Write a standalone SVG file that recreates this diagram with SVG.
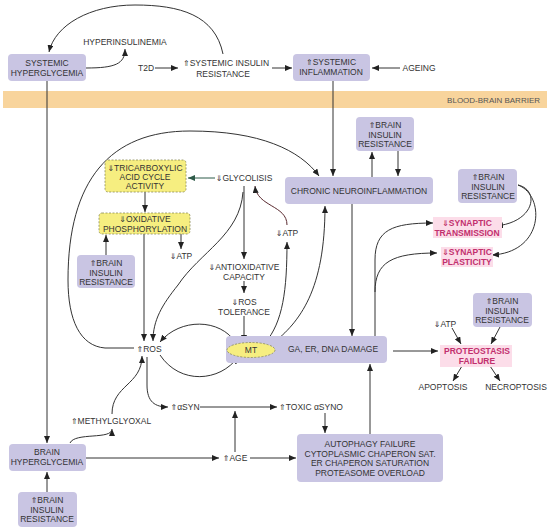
<svg xmlns="http://www.w3.org/2000/svg" width="550" height="530" viewBox="0 0 550 530">
<defs>
<style>
text{font-family:"Liberation Sans",Arial,"DejaVu Sans",sans-serif;font-size:8.5px;fill:#333;text-anchor:middle}
.ar{font-family:"DejaVu Sans",sans-serif;font-size:8px}
.box{fill:#c9c5e3;stroke:none}
.yel{fill:#f6ee80;stroke:#8a8a55;stroke-width:0.8;stroke-dasharray:2 1.5}
.pk{fill:#fcdde9}
.pt{fill:#c2306e;font-weight:bold}
.c path,.c line{fill:none;stroke:#333;stroke-width:1}
</style>
<marker id="a" markerWidth="7" markerHeight="6" refX="7" refY="3" orient="auto" markerUnits="userSpaceOnUse"><path d="M0,0 L7,3 L0,6 z" fill="#222"/></marker>
<marker id="g" markerWidth="7" markerHeight="6" refX="7" refY="3" orient="auto" markerUnits="userSpaceOnUse"><path d="M0,0 L7,3 L0,6 z" fill="#2d5a48"/></marker>
</defs>
<rect width="550" height="530" fill="#fff"/>
<rect x="3" y="91" width="544" height="17" fill="#f8d49c"/>
<text x="540" y="103" style="text-anchor:end;font-size:8px;fill:#555">BLOOD-BRAIN BARRIER</text>

<g class="c">
<path d="M223,54 C215,15 180,5 135,5 C90,5 55,25 49,52" marker-end="url(#a)"/>
<path d="M86,68 C115,68 125,64 125,49" marker-end="url(#a)"/>
<line x1="155" y1="68" x2="178" y2="68" marker-end="url(#a)"/>
<line x1="272" y1="68" x2="292" y2="68" marker-end="url(#a)"/>
<line x1="400" y1="68" x2="372" y2="68" marker-end="url(#a)"/>
<line x1="333" y1="81" x2="333" y2="176" marker-end="url(#a)"/>
<line x1="47" y1="81" x2="47" y2="443" marker-end="url(#a)"/>
<line x1="372" y1="177" x2="372" y2="152" marker-end="url(#a)"/>
<line x1="398" y1="151" x2="398" y2="176" marker-end="url(#a)"/>
<path d="M518,185 C540,190 535,222 496,226" marker-end="url(#a)"/>
<path d="M518,185 C545,195 545,252 492,255" marker-end="url(#a)"/>
<path d="M375,336 L375,260 C375,230 392,223 433,223" marker-end="url(#a)"/>
<path d="M375,292 C375,262 392,253 437,253" marker-end="url(#a)"/>
<line x1="452" y1="328" x2="461" y2="344" marker-end="url(#a)"/>
<line x1="500" y1="327" x2="491" y2="344" marker-end="url(#a)"/>
<line x1="393" y1="351" x2="438" y2="351" marker-end="url(#a)"/>
<line x1="462" y1="366" x2="453" y2="381" marker-end="url(#a)"/>
<line x1="490" y1="366" x2="500" y2="381" marker-end="url(#a)"/>
<line x1="352" y1="204" x2="352" y2="336" marker-end="url(#a)"/>
<line x1="370" y1="434" x2="370" y2="364" marker-end="url(#a)"/>
<path d="M265,343 C283,322 287,290 287,242" marker-end="url(#a)"/>
<path d="M287,225 C287,205 257,207 255,186" style="stroke:#5a2a30" marker-end="url(#a)"/>
<path d="M272,344 C300,322 325,290 325,206" marker-end="url(#a)"/>
<line x1="215" y1="178" x2="188" y2="178" style="stroke:#2d5a48" marker-end="url(#g)"/>
<line x1="145" y1="192" x2="145" y2="212" marker-end="url(#a)"/>
<line x1="181" y1="234" x2="181" y2="249" marker-end="url(#a)"/>
<line x1="144" y1="234" x2="144" y2="341" marker-end="url(#a)"/>
<line x1="106" y1="255" x2="106" y2="235" marker-end="url(#a)"/>
<line x1="244" y1="186" x2="244" y2="259" marker-end="url(#a)"/>
<line x1="244" y1="281" x2="244" y2="293" marker-end="url(#a)"/>
<line x1="244" y1="316" x2="244" y2="342" marker-end="url(#a)"/>
<path d="M243,192 C240,235 200,252 178,285 C162,305 153,320 153,341" marker-end="url(#a)"/>
<path d="M134,348 L105,348 C80,346 68,320 68,280 C68,180 110,131 190,131 C260,131 300,150 319,176" marker-end="url(#a)"/>
<path d="M236,343 C220,318 180,318 160,342" marker-end="url(#a)"/>
<path d="M160,355 C180,385 220,382 238,357" marker-end="url(#a)"/>
<path d="M70,443 C75,432 112,440 112,429" marker-end="url(#a)"/>
<path d="M112,414 C112,385 142,385 142,356" marker-end="url(#a)"/>
<path d="M147,357 L147,385 C147,402 155,407 168,407" marker-end="url(#a)"/>
<line x1="200" y1="407" x2="277" y2="407" marker-end="url(#a)"/>
<line x1="325" y1="413" x2="325" y2="433" marker-end="url(#a)"/>
<line x1="86" y1="458" x2="219" y2="458" marker-end="url(#a)"/>
<line x1="235" y1="452" x2="235" y2="411" marker-end="url(#a)"/>
<line x1="250" y1="458" x2="296" y2="458" marker-end="url(#a)"/>
<line x1="47" y1="492" x2="47" y2="472" marker-end="url(#a)"/>
</g>

<g id="sys-hyperglycemia"><rect class="box" x="8" y="54" width="78" height="27" rx="4"/><text x="47" y="66">SYSTEMIC</text><text x="47" y="76">HYPERGLYCEMIA</text></g>
<g id="hyperinsulinemia"><text x="125" y="45">HYPERINSULINEMIA</text></g>
<g id="t2d"><text x="146" y="71">T2D</text></g>
<g id="sys-insulin-res"><text x="226" y="66"><tspan class="ar">⇑</tspan>SYSTEMIC INSULIN</text><text x="223" y="77">RESISTANCE</text></g>
<g id="sys-inflammation"><rect class="box" x="293" y="54" width="77" height="27" rx="4"/><text x="331" y="65"><tspan class="ar">⇑</tspan>SYSTEMIC</text><text x="331" y="75">INFLAMMATION</text></g>
<g id="ageing"><text x="419" y="71">AGEING</text></g>

<g id="bir-top"><rect class="box" x="356" y="117" width="58" height="34" rx="4"/><text x="385" y="128"><tspan class="ar">⇑</tspan>BRAIN</text><text x="385" y="138">INSULIN</text><text x="385" y="147">RESISTANCE</text></g>
<g id="chronic"><rect class="box" x="285" y="177" width="148" height="27" rx="4"/><text x="359" y="194">CHRONIC NEUROINFLAMMATION</text></g>
<g id="bir-right"><rect class="box" x="458" y="169" width="59" height="34" rx="4"/><text x="488" y="180"><tspan class="ar">⇑</tspan>BRAIN</text><text x="488" y="190">INSULIN</text><text x="488" y="199">RESISTANCE</text></g>
<g id="syn-trans"><rect class="pk" x="433" y="217" width="69" height="21"/><text class="pt" x="467" y="226"><tspan class="ar">⇓</tspan>SYNAPTIC</text><text class="pt" x="467" y="236">TRANSMISSION</text></g>
<g id="syn-plast"><rect class="pk" x="441" y="247" width="52" height="20"/><text class="pt" x="467" y="255"><tspan class="ar">⇓</tspan>SYNAPTIC</text><text class="pt" x="467" y="265">PLASTICITY</text></g>
<g id="bir-lowright"><rect class="box" x="473" y="293" width="59" height="34" rx="4"/><text x="502" y="304"><tspan class="ar">⇑</tspan>BRAIN</text><text x="502" y="314">INSULIN</text><text x="502" y="323">RESISTANCE</text></g>
<g id="atp-right"><text x="445" y="327"><tspan class="ar">⇓</tspan>ATP</text></g>
<g id="proteostasis"><rect class="pk" x="440" y="345" width="72" height="22"/><text class="pt" x="477" y="354">PROTEOSTASIS</text><text class="pt" x="477" y="364">FAILURE</text></g>
<g id="apoptosis"><text x="443" y="390">APOPTOSIS</text></g>
<g id="necroptosis"><text x="516" y="390">NECROPTOSIS</text></g>

<g id="ga-damage"><rect class="box" x="226" y="336" width="161" height="27" rx="4"/><text x="333" y="352">GA, ER, DNA DAMAGE</text></g>
<g id="mt"><ellipse cx="251" cy="350" rx="24" ry="7.5" fill="#f6ee80" stroke="#8a8a55" stroke-width="0.8" stroke-dasharray="2 1.5"/><text x="251" y="353">MT</text></g>

<g id="glycolisis"><text x="244" y="181"><tspan class="ar">⇓</tspan>GLYCOLISIS</text></g>
<g id="tca"><rect class="yel" x="105" y="160" width="81" height="32" rx="3"/><text x="145" y="171"><tspan class="ar">⇓</tspan>TRICARBOXYLIC</text><text x="145" y="180">ACID CYCLE</text><text x="145" y="189">ACTIVITY</text></g>
<g id="oxphos"><rect class="yel" x="99" y="213" width="91" height="21" rx="3"/><text x="145" y="222"><tspan class="ar">⇓</tspan>OXIDATIVE</text><text x="145" y="232">PHOSPHORYLATION</text></g>
<g id="atp-left"><text x="181" y="259"><tspan class="ar">⇓</tspan>ATP</text></g>
<g id="atp-mid"><text x="287" y="236"><tspan class="ar">⇓</tspan>ATP</text></g>
<g id="bir-left"><rect class="box" x="77" y="255" width="58" height="33" rx="4"/><text x="106" y="266"><tspan class="ar">⇑</tspan>BRAIN</text><text x="106" y="276">INSULIN</text><text x="106" y="285">RESISTANCE</text></g>
<g id="antiox"><text x="244" y="270"><tspan class="ar">⇓</tspan>ANTIOXIDATIVE</text><text x="244" y="280">CAPACITY</text></g>
<g id="ros-tol"><text x="244" y="305"><tspan class="ar">⇓</tspan>ROS</text><text x="244" y="315">TOLERANCE</text></g>
<g id="ros"><text x="149" y="352"><tspan class="ar">⇑</tspan>ROS</text></g>
<g id="methylglyoxal"><text x="111" y="424"><tspan class="ar">⇑</tspan>METHYLGLYOXAL</text></g>
<g id="asyn"><text x="185" y="410"><tspan class="ar">⇑</tspan>αSYN</text></g>
<g id="toxic-asyn"><text x="311" y="410"><tspan class="ar">⇑</tspan>TOXIC αSYNO</text></g>
<g id="age"><text x="235" y="461"><tspan class="ar">⇑</tspan>AGE</text></g>
<g id="autophagy"><rect class="box" x="297" y="434" width="146" height="48" rx="4"/><text x="370" y="447">AUTOPHAGY FAILURE</text><text x="370" y="457">CYTOPLASMIC CHAPERON SAT.</text><text x="370" y="466">ER CHAPERON SATURATION</text><text x="370" y="476">PROTEASOME OVERLOAD</text></g>
<g id="brain-hyperglycemia"><rect class="box" x="9" y="444" width="77" height="27" rx="4"/><text x="47" y="455">BRAIN</text><text x="47" y="465">HYPERGLYCEMIA</text></g>
<g id="bir-bottom"><rect class="box" x="18" y="492" width="59" height="35" rx="4"/><text x="47" y="503"><tspan class="ar">⇑</tspan>BRAIN</text><text x="47" y="513">INSULIN</text><text x="47" y="522">RESISTANCE</text></g>
</svg>
